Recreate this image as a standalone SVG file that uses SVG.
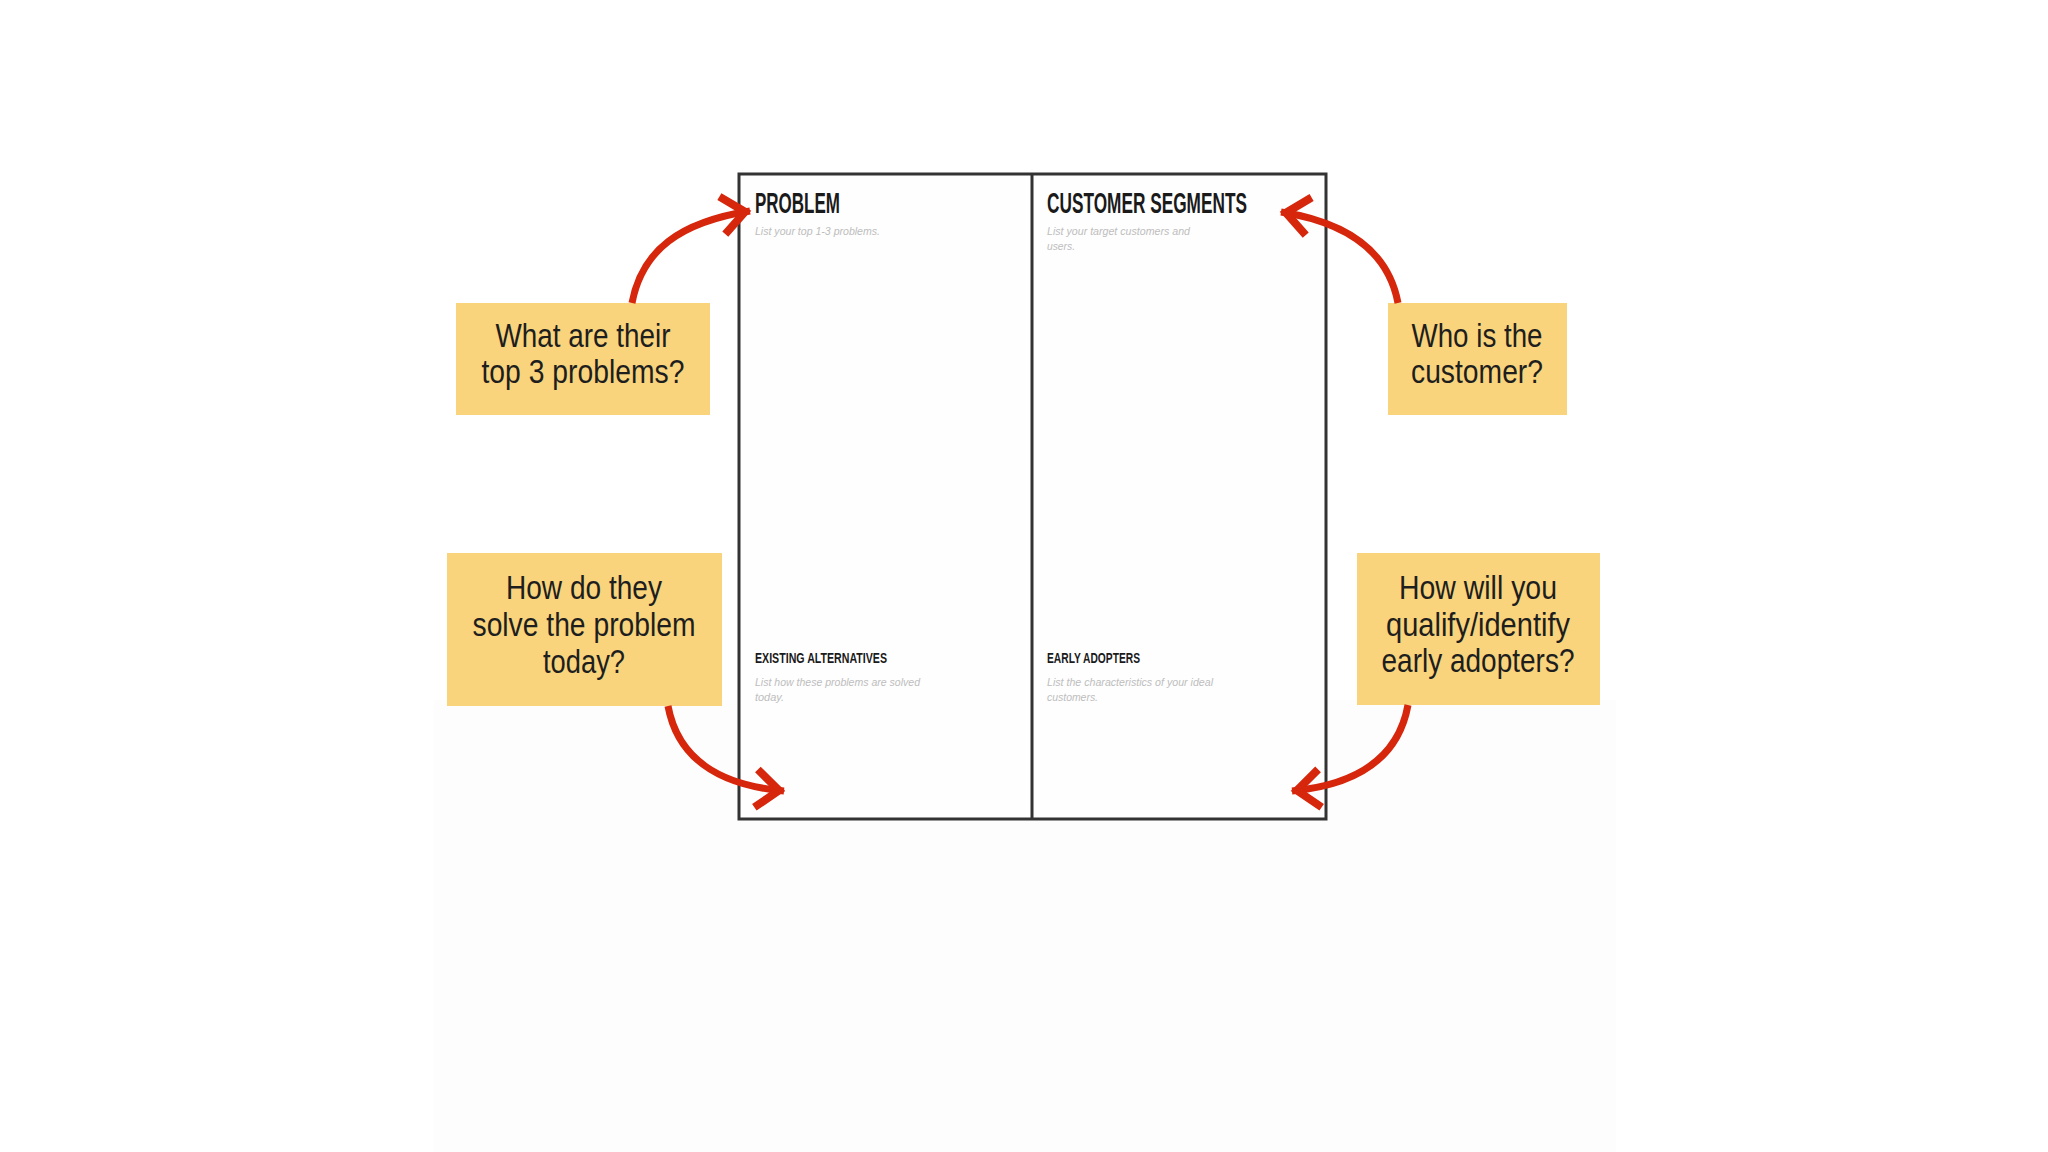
<svg xmlns="http://www.w3.org/2000/svg" width="2048" height="1152" viewBox="0 0 2048 1152">
  <defs>
    <style>
      .note rect { fill: #F9D47C; }
      .note text { font-family: "Liberation Sans", Arial, sans-serif; font-size: 33px; fill: #1E1E1E; text-anchor: middle; }
      .head { font-family: "Liberation Sans", Arial, sans-serif; font-weight: bold; fill: #1A1A1A; }
      .sub { font-family: "Liberation Sans", Arial, sans-serif; font-style: italic; font-size: 11px; fill: #BDBDBD; }
      .arrow { fill: none; stroke: #D6260C; stroke-width: 7; }
      .frame { fill: #FEFEFE; stroke: #333333; stroke-width: 3; }
    </style>
    <marker id="chev" markerUnits="userSpaceOnUse" viewBox="-40 -30 50 60" markerWidth="50" markerHeight="60" refX="5" refY="0" orient="auto">
      <path d="M-23,-19 L0,0 L-23,19" fill="none" stroke="#D6260C" stroke-width="8" stroke-linejoin="miter"/>
    </marker>
  </defs>

  <rect x="0" y="0" width="2048" height="1152" fill="#FFFFFF"/>
  <rect x="434" y="700" width="1182" height="452" fill="#FDFDFD"/>

  <g id="canvas">
    <rect class="frame" x="739" y="174" width="587" height="645"/>
    <line x1="1032" y1="174" x2="1032" y2="819" stroke="#333333" stroke-width="3"/>
  </g>

  <g id="problem">
    <text class="head" x="755" y="213" font-size="29" textLength="85" lengthAdjust="spacingAndGlyphs">PROBLEM</text>
    <text class="sub" x="755" y="235" textLength="125" lengthAdjust="spacingAndGlyphs">List your top 1-3 problems.</text>
  </g>

  <g id="customer-segments">
    <text class="head" x="1047" y="213" font-size="29" textLength="200" lengthAdjust="spacingAndGlyphs">CUSTOMER SEGMENTS</text>
    <text class="sub" x="1047" y="235" textLength="143" lengthAdjust="spacingAndGlyphs">List your target customers and</text>
    <text class="sub" x="1047" y="250" textLength="28" lengthAdjust="spacingAndGlyphs">users.</text>
  </g>

  <g id="existing-alternatives">
    <text class="head" x="755" y="663" font-size="15" textLength="132" lengthAdjust="spacingAndGlyphs">EXISTING ALTERNATIVES</text>
    <text class="sub" x="755" y="686" textLength="165" lengthAdjust="spacingAndGlyphs">List how these problems are solved</text>
    <text class="sub" x="755" y="701" textLength="29" lengthAdjust="spacingAndGlyphs">today.</text>
  </g>

  <g id="early-adopters">
    <text class="head" x="1047" y="663" font-size="15" textLength="93" lengthAdjust="spacingAndGlyphs">EARLY ADOPTERS</text>
    <text class="sub" x="1047" y="686" textLength="166" lengthAdjust="spacingAndGlyphs">List the characteristics of your ideal</text>
    <text class="sub" x="1047" y="701" textLength="51" lengthAdjust="spacingAndGlyphs">customers.</text>
  </g>

  <g id="note-top-problems" class="note">
    <rect x="456" y="303" width="254" height="112"/>
    <text x="583" y="347" textLength="175" lengthAdjust="spacingAndGlyphs">What are their</text>
    <text x="583" y="383" textLength="203" lengthAdjust="spacingAndGlyphs">top 3 problems?</text>
  </g>

  <g id="note-customer" class="note">
    <rect x="1388" y="303" width="179" height="112"/>
    <text x="1477" y="347" textLength="131" lengthAdjust="spacingAndGlyphs">Who is the</text>
    <text x="1477" y="383" textLength="132" lengthAdjust="spacingAndGlyphs">customer?</text>
  </g>

  <g id="note-solve" class="note">
    <rect x="447" y="553" width="275" height="153"/>
    <text x="584" y="599" textLength="156" lengthAdjust="spacingAndGlyphs">How do they</text>
    <text x="584" y="636" textLength="223" lengthAdjust="spacingAndGlyphs">solve the problem</text>
    <text x="584" y="673" textLength="82" lengthAdjust="spacingAndGlyphs">today?</text>
  </g>

  <g id="note-early-adopters" class="note">
    <rect x="1357" y="553" width="243" height="152"/>
    <text x="1478" y="599" textLength="158" lengthAdjust="spacingAndGlyphs">How will you</text>
    <text x="1478" y="636" textLength="184" lengthAdjust="spacingAndGlyphs">qualify/identify</text>
    <text x="1478" y="672" textLength="193" lengthAdjust="spacingAndGlyphs">early adopters?</text>
  </g>

  <g id="connectors">
    <path class="arrow" d="M632,303 C642,250 680,222 750,211" marker-end="url(#chev)"/>
    <path class="arrow" d="M1398,303 C1388,250 1345,222 1281,212" marker-end="url(#chev)"/>
    <path class="arrow" d="M668,706 C678,760 720,785 784,791" marker-end="url(#chev)"/>
    <path class="arrow" d="M1408,705 C1398,760 1355,785 1292,791" marker-end="url(#chev)"/>
  </g>
</svg>
